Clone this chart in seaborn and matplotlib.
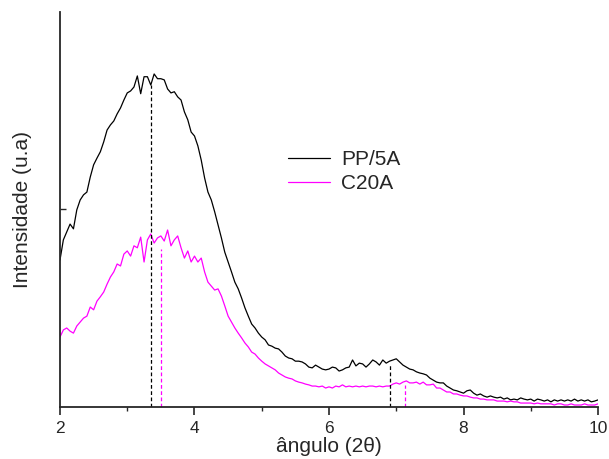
import numpy as np
import pandas as pd
import matplotlib
matplotlib.use("Agg")
import matplotlib.pyplot as plt
import seaborn as sns

# 2theta grid, step 0.05 from 2 to 10
angle = np.round(np.arange(2.0, 10.0001, 0.05), 2)

# intensities (a.u.)
pp5a = [
    37.2, 42.3, 44.3, 46.3, 45.1, 49.9, 52.4, 53.7, 54.4, 58.2,
    61.3, 63.0, 64.6, 67.1, 70.1, 71.4, 72.4, 74.2, 75.7, 77.7,
    79.5, 80.0, 81.0, 83.8, 79.3, 83.6, 83.6, 81.5, 84.3, 83.1,
    83.1, 82.8, 80.5, 79.5, 79.8, 78.5, 77.7, 74.7, 72.7, 69.6,
    68.6, 66.1, 62.5, 58.0, 54.4, 52.4, 49.4, 46.1, 42.8, 39.2,
    36.7, 34.2, 31.6, 29.9, 27.6, 25.1, 23.0, 21.0, 20.0, 18.7,
    17.7, 17.0, 15.7, 15.4, 14.9, 14.7, 13.9, 12.9, 12.4, 12.2,
    11.6, 11.6, 11.4, 10.9, 10.1, 9.9, 10.6, 10.1, 9.6, 9.4,
    9.6, 10.1, 9.9, 9.1, 9.4, 9.9, 10.1, 11.9, 10.4, 11.1,
    10.9, 10.1, 10.9, 11.9, 11.4, 10.6, 11.9, 11.1, 11.6, 11.9,
    12.2, 11.4, 10.6, 10.1, 9.6, 9.4, 8.9, 8.6, 8.4, 8.1,
    7.3, 6.8, 6.3, 6.1, 6.1, 5.3, 4.8, 4.3, 4.1, 3.8,
    3.5, 4.1, 4.3, 3.5, 3.0, 3.3, 2.8, 2.5, 2.8, 2.5,
    2.3, 2.5, 2.0, 2.3, 1.8, 2.0, 1.8, 2.3, 2.0, 1.8,
    2.0, 1.5, 2.0, 1.8, 1.5, 1.8, 1.3, 1.8, 1.5, 1.8,
    1.5, 1.8, 1.5, 2.0, 1.5, 1.8, 1.5, 1.8, 1.3, 1.5,
    1.8,
]
c20a = [
    17.7, 19.5, 20.0, 19.2, 18.7, 20.5, 21.5, 22.5, 23.0, 25.3,
    24.6, 26.8, 27.9, 29.1, 31.1, 32.9, 34.2, 36.2, 35.7, 38.7,
    39.5, 38.2, 40.8, 40.3, 43.0, 36.7, 42.3, 43.8, 41.5, 42.8,
    43.3, 42.0, 44.8, 40.8, 42.3, 43.3, 40.3, 37.7, 39.5, 36.7,
    38.2, 36.7, 37.7, 34.2, 31.6, 30.6, 29.6, 29.9, 28.1, 25.6,
    23.0, 21.5, 20.0, 18.7, 17.5, 16.2, 15.2, 13.9, 13.4, 12.4,
    11.6, 10.9, 10.4, 9.9, 9.4, 8.6, 8.1, 7.6, 7.3, 7.1,
    6.6, 6.3, 6.1, 5.8, 5.6, 5.3, 5.3, 5.1, 5.3, 4.8,
    5.1, 4.8, 5.3, 5.1, 5.6, 5.1, 5.3, 5.1, 5.3, 5.1,
    5.3, 5.1, 5.3, 5.3, 5.1, 5.3, 5.1, 5.3, 5.3, 5.8,
    6.1, 5.8, 6.3, 6.6, 6.1, 6.1, 6.3, 5.8, 6.3, 5.6,
    5.6, 5.8, 4.8, 4.8, 4.3, 3.8, 3.8, 3.3, 3.3, 3.0,
    2.8, 2.8, 2.5, 2.3, 2.3, 2.0, 2.0, 1.8, 1.8, 1.8,
    1.5, 1.5, 1.5, 1.3, 1.5, 1.3, 1.3, 1.0, 1.0, 1.0,
    1.0, 0.8, 1.0, 0.8, 0.8, 0.8, 0.8, 0.5, 0.8, 0.8,
    0.5, 0.5, 0.8, 0.5, 0.5, 0.5, 0.8, 0.5, 0.5, 0.5,
    0.8,
]

# peak markers (dashed drop lines): position, height
peaks_pp = [(3.35, 81.5), (6.91, 10.6)]
peaks_c20 = [(3.50, 40.0), (7.13, 5.6)]

df = pd.DataFrame({
    "angle": np.concatenate([angle, angle]),
    "intensity": pp5a + c20a,
    "sample": ["PP/5A"] * len(angle) + ["C20A"] * len(angle),
})

sns.set_style("ticks")
plt.rcParams["font.family"] = ["Liberation Sans", "DejaVu Sans"]

fig = plt.figure(figsize=(6.09, 4.59), dpi=100)
ax = fig.add_axes([0.0985, 0.1133, 0.8835, 0.8607])

palette = {"PP/5A": "black", "C20A": "#ff00ff"}
sns.lineplot(data=df, x="angle", y="intensity", hue="sample", palette=palette,
             linewidth=0.9, ax=ax)

for x, h in peaks_pp:
    ax.plot([x, x], [0, h], color="black", linestyle=(0, (3, 2)), linewidth=0.9)
for x, h in peaks_c20:
    ax.plot([x, x], [0, h], color="#ff00ff", linestyle=(0, (3, 2)), linewidth=0.9)

ax.set_xlim(2, 10)
ax.set_ylim(0, 100)
ax.set_xticks([2, 4, 6, 8, 10])
ax.set_xticks([3, 5, 7, 9], minor=True)
ax.set_yticks([50])
ax.set_yticklabels([])
ax.tick_params(axis="x", which="major", direction="out", length=6, width=1.2,
               labelsize=12.5, pad=4)
ax.tick_params(axis="x", which="minor", direction="out", length=3, width=1.0)
ax.tick_params(axis="y", direction="in", length=4, width=1.0)

sns.despine(ax=ax)
for s in ["left", "bottom"]:
    ax.spines[s].set_linewidth(1.3)

ax.set_xlabel("ângulo (2θ)", fontsize=15, labelpad=1)
ax.set_ylabel("Intensidade (u.a)", fontsize=15, labelpad=17)

ax.legend(frameon=False, fontsize=15, loc="upper left",
          bbox_to_anchor=(0.424, 0.65), borderaxespad=0, borderpad=0,
          handlelength=2.0, handletextpad=0.55, labelspacing=0.25)

fig.savefig("out.png", dpi=100)
